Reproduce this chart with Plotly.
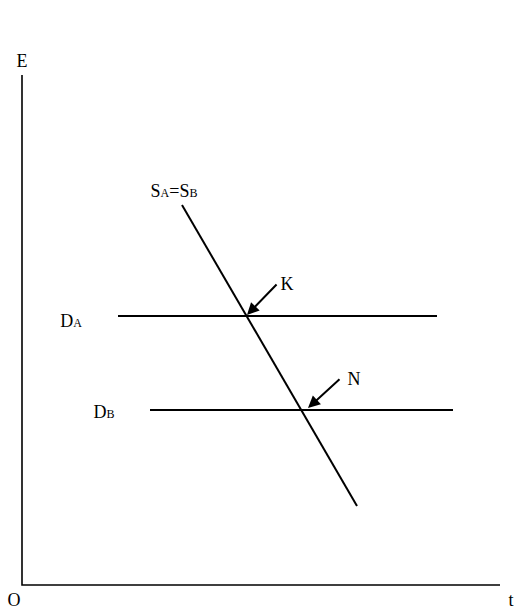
import plotly.graph_objects as go

# Coordinates in a conceptual frame: origin O at (0,0)
axis_x = [0, 0, 478]
axis_y = [510, 0, 0]

s_x = [160, 335]
s_y = [380, 79]

da_x = [96, 415]
da_y = [269, 269]

db_x = [128, 431]
db_y = [175, 175]

# arrows: (tip_x, tip_y, tail_x, tail_y)
arrow_k = (225, 270, 256, 302)
arrow_n = (286, 177, 319, 207)

label_text = [
    "E", "O", "t",
    "S<span style='font-size:12px'>A</span>=S<span style='font-size:12px'>B</span>",
    "D<span style='font-size:12px'>A</span>",
    "D<span style='font-size:12px'>B</span>",
    "K", "N",
]
label_x = [0, -8, 489, 152, 49, 82, 265, 332]
label_y = [523, -16, -16, 393, 263, 172, 300, 205]

fig = go.Figure()
line_style = dict(color="black", width=2)
fig.add_trace(go.Scatter(x=axis_x, y=axis_y, mode="lines", line=dict(color="black", width=1.6)))
fig.add_trace(go.Scatter(x=s_x, y=s_y, mode="lines", line=line_style))
fig.add_trace(go.Scatter(x=da_x, y=da_y, mode="lines", line=line_style))
fig.add_trace(go.Scatter(x=db_x, y=db_y, mode="lines", line=line_style))
fig.add_trace(go.Scatter(x=label_x, y=label_y, mode="text", text=label_text,
                         textposition="middle center", cliponaxis=False,
                         textfont=dict(family="Liberation Serif", size=18, color="black"),
                         hoverinfo="skip"))

for tx, ty, ax, ay in (arrow_k, arrow_n):
    fig.add_annotation(x=tx, y=ty, ax=ax, ay=ay, xref="x", yref="y", axref="x", ayref="y",
                       text="", showarrow=True, arrowhead=2, arrowsize=1.2, arrowwidth=2,
                       arrowcolor="black", standoff=0)

fig.update_layout(
    width=516, height=614,
    margin=dict(l=0, r=0, t=0, b=0),
    paper_bgcolor="white", plot_bgcolor="white",
    showlegend=False,
    xaxis=dict(range=[-22, 494], visible=False, fixedrange=True),
    yaxis=dict(range=[-29, 585], visible=False, fixedrange=True),
)
fig.write_html(
    "out.html",
    config={"displayModeBar": False},
    post_script="document.body.style.margin='0';document.documentElement.style.overflow='hidden';document.body.style.overflow='hidden';",
)
